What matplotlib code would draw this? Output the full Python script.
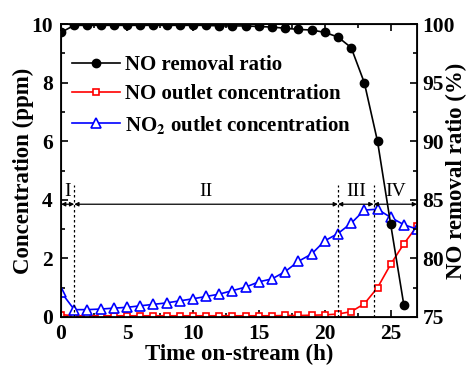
import matplotlib
matplotlib.use("Agg")
import matplotlib.pyplot as plt
from matplotlib.ticker import MultipleLocator

#-----------------------Data-----------------------#
hours = list(range(28))

no2_conc = [0.85, 0.25, 0.25, 0.27, 0.30, 0.33, 0.38, 0.43, 0.48, 0.55,
            0.62, 0.70, 0.78, 0.90, 1.02, 1.20, 1.30, 1.55, 1.90, 2.15,
            2.60, 2.85, 3.20, 3.65, 3.68, 3.40, 3.15, 3.00]

no_conc = [0.08, 0.04, 0.04, 0.04, 0.04, 0.04, 0.04, 0.04, 0.04, 0.04,
           0.04, 0.04, 0.04, 0.04, 0.04, 0.04, 0.04, 0.05, 0.05, 0.06,
           0.07, 0.10, 0.18, 0.45, 1.00, 1.80, 2.50, 3.10]

removal_hours = list(range(27))
removal = [99.3, 99.9, 99.9, 99.9, 99.9, 99.9, 99.9, 99.9, 99.9, 99.9,
           99.9, 99.9, 99.85, 99.85, 99.85, 99.8, 99.75, 99.65, 99.55, 99.5,
           99.3, 98.9, 98.0, 95.0, 90.0, 82.9, 76.0]

stage_bounds = [0, 1, 21, 23.7, 27]
stage_names = ["I", "II", "III", "IV"]

#-----------------------Style-----------------------#
plt.rcParams['font.family'] = ['Liberation Serif', 'DejaVu Serif']
plt.rcParams['font.weight'] = 'bold'
plt.rcParams['mathtext.fontset'] = 'stix'

fig = plt.figure(figsize=(4.66, 3.66), dpi=100)
ax1 = fig.add_axes([0.131, 0.134, 0.764, 0.80])
ax2 = ax1.twinx()

# concentrations (left axis)
ax1.plot(hours, no_conc, color='red', marker='s', ms=5, mfc='white',
         mec='red', mew=1.2, lw=1.2, label='NO outlet concentration')
ax1.plot(hours, no2_conc, color='blue', marker='^', ms=7, mfc='white',
         mec='blue', mew=1.2, lw=1.2, label=r'NO$_{\mathbf{2}}$ outlet concentration')

# removal ratio (right axis)
ax2.plot(removal_hours, removal, color='black', marker='o', ms=6, lw=1.2,
         label='NO removal ratio')

# stage separators and arrows
for xb in stage_bounds[1:-1]:
    ax1.plot([xb, xb], [0, 4.5], color='black', ls=(0, (2, 2)), lw=0.9)
for i in range(len(stage_names)):
    a, b = stage_bounds[i], stage_bounds[i + 1]
    ax1.annotate('', xy=(a, 3.85), xytext=(b, 3.85),
                 arrowprops=dict(arrowstyle='<|-|>', color='black', lw=0.9,
                                 mutation_scale=6, shrinkA=0, shrinkB=0))
    ax1.text((a + b) / 2, 4.3, stage_names[i], ha='center', va='center',
             fontsize=14, fontweight='normal')

ax1.set_xlim(0, 27)
ax1.set_ylim(0, 10)
ax2.set_ylim(75, 100)

ax1.xaxis.set_major_locator(MultipleLocator(5))
ax1.xaxis.set_minor_locator(MultipleLocator(2.5))
ax1.yaxis.set_major_locator(MultipleLocator(2))
ax1.yaxis.set_minor_locator(MultipleLocator(1))
ax2.yaxis.set_major_locator(MultipleLocator(5))
ax2.yaxis.set_minor_locator(MultipleLocator(2.5))

ax1.tick_params(which='both', direction='in', top=True, labelsize=15.5, width=1.2)
ax1.tick_params(which='major', length=5)
ax1.tick_params(which='minor', length=3)
ax1.tick_params(axis='x', which='major', pad=5)
ax1.tick_params(axis='y', which='major', pad=6)
ax2.tick_params(which='both', direction='in', labelsize=15.5, width=1.2)
ax2.tick_params(which='major', length=5, pad=4)
ax2.tick_params(which='minor', length=3)
for lbl in ax1.get_xticklabels() + ax1.get_yticklabels() + ax2.get_yticklabels():
    lbl.set_fontweight('bold')
for sp in ax1.spines.values():
    sp.set_linewidth(1.3)

ax1.set_xlabel('Time on-stream (h)', fontsize=16.5, fontweight='bold', labelpad=0)
ax1.set_ylabel('Concentration (ppm)', fontsize=16.5, fontweight='bold')
ax2.set_ylabel('NO removal ratio (%)', fontsize=16.5, fontweight='bold')
ax1.yaxis.label.set_va('center')
ax2.yaxis.label.set_va('center')
ax1.yaxis.set_label_coords(-0.107, 0.5)
ax2.yaxis.set_label_coords(1.112, 0.5)

h1, l1 = ax1.get_legend_handles_labels()
h2, l2 = ax2.get_legend_handles_labels()
leg = ax1.legend(h2 + h1, l2 + l1, loc='upper left', bbox_to_anchor=(0.031, 0.895),
                 frameon=False, handlelength=2.3, handletextpad=0.25,
                 labelspacing=0.45, borderaxespad=0, borderpad=0,
                 prop={'weight': 'bold', 'size': 15})

fig.savefig('out.png', dpi=100)
